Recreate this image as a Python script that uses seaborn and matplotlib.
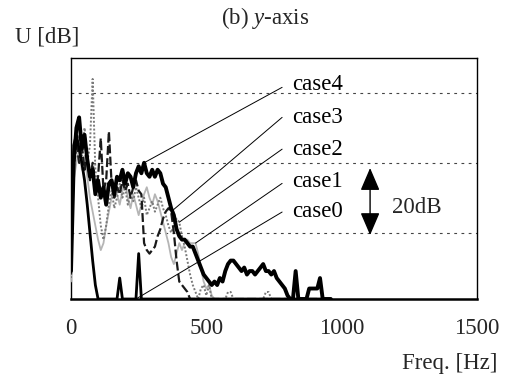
import numpy as np
import pandas as pd
import matplotlib
matplotlib.use("Agg")
import matplotlib.pyplot as plt
import seaborn as sns

# Frequency bins [Hz] shared by all spectra (10 Hz resolution)
freq = [
    0, 10, 20, 30, 40, 50, 60, 70, 80, 90,
    100, 110, 120, 130, 140, 150, 160, 170, 180, 190,
    200, 210, 220, 230, 240, 250, 260, 270, 280, 290,
    300, 310, 320, 330, 340, 350, 360, 370, 380, 390,
    400, 410, 420, 430, 440, 450, 460, 470, 480, 490,
    500, 510, 520, 530, 540, 550, 560, 570, 580, 590,
    600, 610, 620, 630, 640, 650, 660, 670, 680, 690,
    700, 710, 720, 730, 740, 750, 760, 770, 780, 790,
    800, 810, 820, 830, 840, 850, 860, 870, 880, 890,
    900, 910, 920, 930, 940, 950, 960,
]

# Spectral levels U [dB] for each case
case4 = [
    9, 40, 50, 53, 44, 48, 41, 36, 38, 31,
    35, 30, 33, 28, 34, 35, 31, 36, 35, 38,
    34, 37, 36, 33, 37, 39, 37, 40, 37, 36,
    38, 36, 38, 37, 34, 33, 30, 27, 25, 21,
    19, 18, 18, 17, 16, 16, 14, 12, 10, 8,
    7, 6, 5, 6, 5, 7, 6, 9, 11, 12,
    12, 11, 10, 9, 10, 8, 9, 9, 8, 9,
    10, 11, 9, 9, 8, 9, 7, 6, 5, 4,
    2, 1, 1, 9, 1, 1, 1, 1, 4, 4,
    4, 4, 7, 1, 1, 1, 1,
]
case3 = [
    8, 42, 46, 40, 45, 38, 42, 35, 40, 33,
    36, 47, 32, 35, 49, 34, 30, 33, 31, 35,
    32, 34, 30, 33, 35, 32, 31, 17, 15, 14,
    15, 16, 19, 21, 24, 26, 27, 26, 20, 12,
    6, 5, 4, 3, 1, 1, 1, 1, 1, 1,
    1, 1, 1, 1, 1, 1, 1, 1, 1, 1,
    1, 1, 1, 1, 1, 1, 1, 1, 1, 1,
    1, 1, 1, 1, 1, 1, 1, 1, 1, 1,
    1, 1, 1, 1, 1, 1, 1, 1, 1, 1,
    1, 1, 1, 1, 1, 1, 1,
]
case2 = [
    7, 38, 44, 48, 42, 50, 40, 45, 64, 38,
    30, 22, 18, 22, 28, 32, 27, 30, 34, 30,
    33, 28, 31, 29, 33, 30, 27, 30, 25, 27,
    29, 26, 28, 30, 27, 25, 22, 20, 22, 24,
    23, 19, 16, 12, 8, 5, 3, 1, 4, 5,
    2, 5, 1, 1, 1, 1, 1, 1, 3, 3,
    1, 1, 1, 1, 1, 1, 1, 1, 1, 1,
    1, 1, 3, 3, 1, 1, 1, 1, 1, 1,
    1, 1, 1, 1, 1, 1, 1, 1, 1, 1,
    1, 1, 1, 1, 1, 1, 1,
]
case1 = [
    6, 35, 40, 44, 38, 42, 36, 30, 26, 22,
    18, 15, 17, 22, 26, 30, 34, 31, 28, 32,
    35, 30, 27, 31, 28, 25, 28, 31, 33, 30,
    28, 31, 29, 26, 23, 20, 17, 13, 11, 14,
    17, 15, 17, 18, 17, 17, 17, 14, 10, 6,
    4, 5, 2, 1, 1, 1, 1, 1, 1, 1,
    1, 1, 1, 1, 1, 1, 1, 1, 1, 1,
    1, 1, 1, 1, 1, 1, 1, 1, 1, 1,
    1, 1, 1, 1, 1, 1, 1, 1, 1, 1,
    1, 1, 1, 1, 1, 1, 1,
]
case0 = [
    10, 45, 48, 44, 40, 35, 28, 20, 12, 5,
    1, 1, 1, 1, 1, 1, 1, 1, 7, 1,
    1, 1, 1, 1, 1, 14, 1, 1, 1, 1,
    1, 1, 1, 1, 1, 1, 1, 1, 1, 1,
    1, 1, 1, 1, 1, 1, 1, 1, 1, 1,
    1, 1, 1, 1, 1, 1, 1, 1, 1, 1,
    1, 1, 1, 1, 1, 1, 1, 1, 1, 1,
    1, 1, 1, 1, 1, 1, 1, 1, 1, 1,
    1, 1, 1, 1, 1, 1, 1, 1, 1, 1,
    1, 1, 1, 1, 1, 1, 1,
]

case_names = ["case4", "case3", "case2", "case1", "case0"]
x_ticks = [0, 500, 1000, 1500]
grid_levels = [20, 40, 60]

series = {"case4": case4, "case3": case3, "case2": case2,
          "case1": case1, "case0": case0}
df = pd.DataFrame({"Freq": freq, **series})

sns.set_style("white")
plt.rcParams["font.family"] = ["Liberation Serif", "DejaVu Serif"]
plt.rcParams["mathtext.fontset"] = "custom"
plt.rcParams["mathtext.rm"] = "Liberation Serif"
plt.rcParams["mathtext.it"] = "Liberation Serif:italic"

fig = plt.figure(figsize=(5.05, 3.85), dpi=100)
ax = fig.add_axes([71 / 505, 1 - 299 / 385, 406 / 505, 241 / 385])

ax.set_xlim(0, 1500)
ax.set_ylim(1, 70)

for lvl in grid_levels:
    ax.axhline(lvl, color="#444444", lw=0.8, ls=(0, (2.5, 4)), zorder=1)

# line styles, drawn from the back (light) to the front (heavy)
styles = {
    "case1": dict(color="#b5b5b5", lw=1.3, ls="-"),
    "case2": dict(color="#7a7a7a", lw=1.4, ls=(0, (1, 1))),
    "case3": dict(color="#1a1a1a", lw=1.6, ls=(0, (4, 1.5))),
    "case0": dict(color="black", lw=2.0, ls="-"),
    "case4": dict(color="black", lw=2.8, ls="-"),
}
for name in ["case1", "case2", "case3", "case0", "case4"]:
    st = styles[name]
    sns.lineplot(data=df, x="Freq", y=name, ax=ax, color=st["color"],
                 linewidth=st["lw"], linestyle=st["ls"], zorder=3)

# label text positions and leader-line targets on each curve
label_pos = {"case4": 62.4, "case3": 53.0, "case2": 43.9,
             "case1": 34.7, "case0": 26.1}
leader_start = {"case4": 61.6, "case3": 53.0, "case2": 43.9,
                "case1": 34.1, "case0": 25.9}
leader_target = {"case4": 270, "case3": 370, "case2": 400,
                 "case1": 460, "case0": 240}
for name in case_names:
    tx = leader_target[name]
    ty = series[name][freq.index(tx)]
    ax.annotate("", xy=(tx, ty), xytext=(780, leader_start[name]),
                arrowprops=dict(arrowstyle="-", lw=0.7, color="black",
                                shrinkA=0, shrinkB=0), zorder=4)
    ax.text(816, label_pos[name], name, fontsize=16.5, ha="left",
            va="center", color="black", zorder=5)

# 20 dB scale arrow
ax.annotate("", xy=(1105, 19.3), xytext=(1105, 38.5),
            arrowprops=dict(arrowstyle="<|-|>,head_length=1.4,head_width=0.6",
                            mutation_scale=10, lw=1.0, color="black",
                            shrinkA=0, shrinkB=0), zorder=5)
ax.text(1186, 27.3, "20dB", fontsize=16.5, ha="left", va="center")

ax.set_xticks(x_ticks)
ax.set_xticklabels([str(t) for t in x_ticks])
ax.set_yticks([])
ax.tick_params(axis="x", length=0, pad=14, labelsize=16.5)
ax.set_xlabel("")
ax.set_ylabel("")

for side, sp in ax.spines.items():
    sp.set_visible(True)
    sp.set_color("black")
    sp.set_linewidth(1.0)
ax.spines["bottom"].set_linewidth(1.8)

fig.text(265 / 505, 1 - 18 / 385, "(b) $\\mathit{y}$-axis", fontsize=16.5,
         ha="center", va="center")
fig.text(47 / 505, 1 - 37 / 385, "U [dB]", fontsize=16.5,
         ha="center", va="center")
fig.text(497 / 505, 1 - 364 / 385, "Freq. [Hz]", fontsize=16.5,
         ha="right", va="center")

fig.savefig("out.png", dpi=100, facecolor="white")
